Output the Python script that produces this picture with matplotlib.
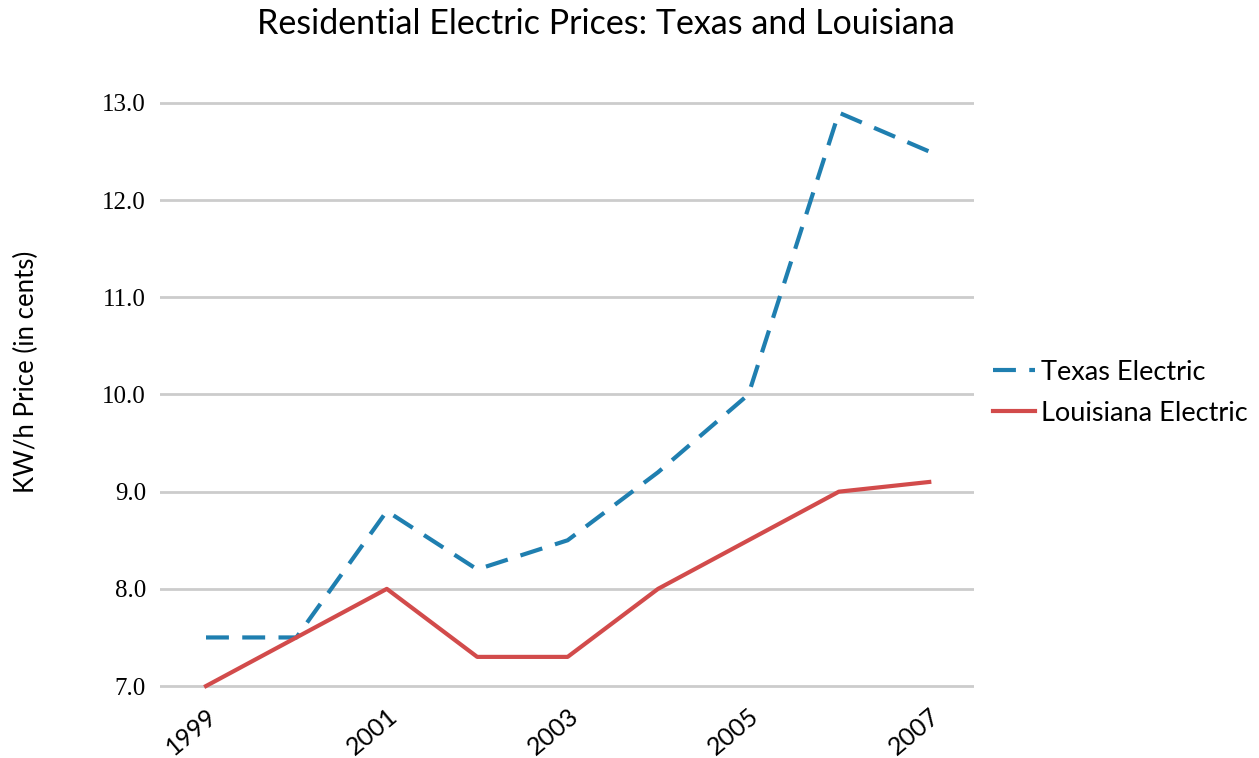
import matplotlib
matplotlib.use("Agg")
import matplotlib.pyplot as plt

years = [1999, 2000, 2001, 2002, 2003, 2004, 2005, 2006, 2007]
texas = [7.5, 7.5, 8.8, 8.2, 8.5, 9.2, 10.0, 12.9, 12.5]
louisiana = [7.0, 7.5, 8.0, 7.3, 7.3, 8.0, 8.5, 9.0, 9.1]
yticks = [7.0, 8.0, 9.0, 10.0, 11.0, 12.0, 13.0]
xticks = [1999, 2001, 2003, 2005, 2007]

blue = "#1f7fb0"
red = "#d24b4b"

fig = plt.figure(figsize=(12.59, 7.58), dpi=100)
ax = fig.add_axes([0.127, 0.093, 0.647, 0.7776])

ax.plot(years, texas, color=blue, lw=3, dashes=(5.5, 3.2), label="Texas Electric",
        dash_capstyle="butt")
ax.plot(years, louisiana, color=red, lw=3, label="Louisiana Electric", clip_on=False)

ax.set_xlim(1998.49, 2007.5)
ax.set_ylim(6.985, 13.05)
ax.set_yticks(yticks)
ax.set_yticklabels([f"{v:.1f}" for v in yticks], family="Liberation Serif", fontsize=18)
ax.set_xticks(xticks)
ax.set_xticklabels([str(y) for y in xticks], family="Lato", fontsize=18,
                   rotation=40, ha="right", rotation_mode="anchor")
ax.tick_params(axis="both", length=0, pad=10)
ax.tick_params(axis="x", pad=12)
ax.grid(axis="y", color="#cccccc", lw=2)
ax.set_axisbelow(True)
for s in ax.spines.values():
    s.set_visible(False)

fig.text(0.021, 0.509, "KW/h Price (in cents)", rotation=90, ha="center", va="center",
         family="Lato", fontsize=18.5)
fig.text(0.481, 0.968, "Residential Electric Prices: Texas and Louisiana",
         ha="center", va="center", family="Lato", fontsize=24.5)

fig.legend(loc="center left", bbox_to_anchor=(0.789, 0.482), frameon=False,
           borderpad=0, borderaxespad=0,
           prop={"family": "Lato", "size": 19.5}, handlelength=1.55, handletextpad=0.2,
           labelspacing=0.6)

fig.savefig("out.png", dpi=100)
